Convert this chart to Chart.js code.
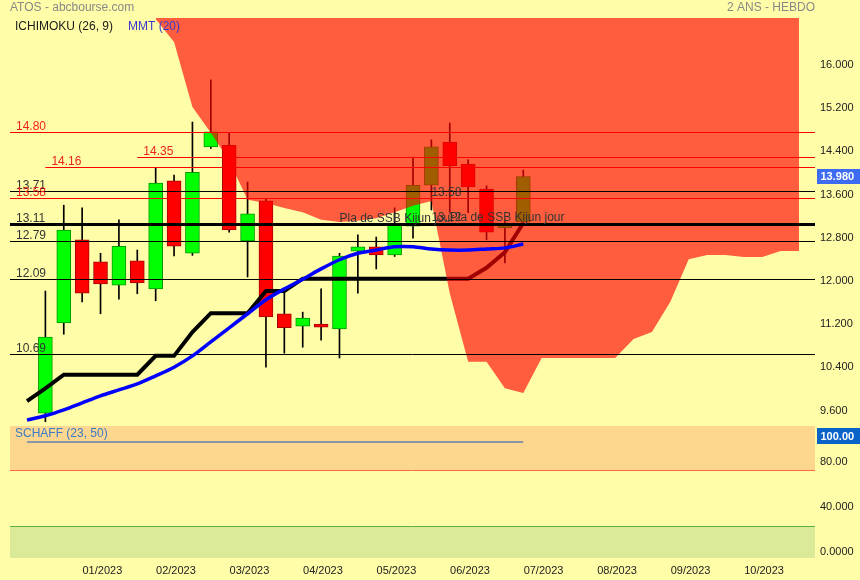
<!DOCTYPE html>
<html>
<head>
<meta charset="utf-8">
<title>ATOS - abcbourse.com</title>
<script src="https://cdn.jsdelivr.net/npm/chart.js@4.4.1/dist/chart.umd.min.js"></script>
<style>
  html, body { margin: 0; padding: 0; background: #FFFDA8; }
  #wrap { position: relative; width: 860px; height: 580px; overflow: hidden; }
  #main { position: absolute; left: 0; top: 0; }
  #osc { position: absolute; left: 0; top: 425px; }
</style>
</head>
<body>
<div id="wrap">
  <canvas id="main" width="860" height="425" style="width:860px;height:425px"></canvas>
  <canvas id="osc" width="860" height="155" style="width:860px;height:155px"></canvas>
</div>
<script>
// Weekly candles, week index 1..27 (index 0 = first point of the lines)
const opens  = [9.60, 11.27, 12.81, 12.40, 11.97, 12.42, 11.90, 13.90, 12.56, 14.53, 14.56, 12.79, 13.53, 11.44,
                11.21, 11.25, 11.16, 12.60, 12.68, 12.53, 13.06, 13.82, 14.62, 14.21, 13.75, 13.03, 13.14];
const closes = [11.01, 12.99, 11.82, 11.99, 12.69, 12.01, 13.86, 12.69, 14.06, 14.81, 12.99, 13.29, 11.38, 11.18,
                11.36, 11.19, 12.51, 12.68, 12.53, 13.10, 13.82, 14.53, 14.18, 13.79, 12.95, 13.08, 13.98];
const highs  = [11.86, 13.45, 13.40, 12.56, 13.18, 12.62, 14.14, 14.01, 14.99, 15.77, 14.79, 13.88, 13.56, 11.86,
                11.47, 11.90, 12.56, 12.90, 12.86, 13.40, 14.34, 14.66, 14.97, 14.29, 13.81, 13.18, 14.10];
const lows   = [9.44, 11.06, 11.66, 11.44, 11.71, 11.81, 11.68, 12.51, 12.52, 14.50, 12.95, 12.12, 10.45, 10.71,
                10.82, 10.95, 10.62, 11.82, 12.27, 12.50, 12.84, 13.36, 13.32, 13.31, 12.81, 12.38, 13.12];

// Ichimoku Kijun + MMT(20), week index 0..27
const kijun = [9.82, 10.06, 10.31, 10.31, 10.31, 10.31, 10.31, 10.66, 10.66, 11.10, 11.45, 11.45, 11.45, 11.86,
               11.86, 12.09, 12.09, 12.09, 12.09, 12.09, 12.09, 12.09, 12.09, 12.09, 12.09, 12.29, 12.58, 13.12];
const mmt20 = [9.47, 9.55, 9.66, 9.79, 9.92, 10.03, 10.14, 10.29, 10.45, 10.66, 10.92, 11.18, 11.44, 11.70,
               11.90, 12.08, 12.27, 12.44, 12.56, 12.62, 12.68, 12.68, 12.64, 12.62, 12.62, 12.64, 12.66, 12.73];

// lower edge of the cloud, week index 7..42 (upper edge is above the chart)
const cloudStart = 7;
const cloudLow = [16.90, 16.47, 15.27, 14.79, 14.27, 13.55, 13.49, 13.40, 13.32, 13.18, 13.14, 13.16, 13.21, 13.32,
                  13.44, 13.53, 11.82, 10.55, 10.55, 10.06, 9.97, 10.62, 10.62, 10.62, 10.62, 10.62, 10.97, 11.10,
                  11.66, 12.45, 12.53, 12.53, 12.49, 12.49, 12.60, 12.60];

// Schaff (23, 50), week index 0..27
const schaff = [100, 100, 100, 100, 100, 100, 100, 100, 100, 100, 100, 100, 100, 100,
                100, 100, 100, 100, 100, 100, 100, 100, 100, 100, 100, 100, 100, 100];

// horizontal levels (null start = from the left edge)
const levels     = [14.80, 14.35, 14.16, 13.71, 13.58, 13.11, 12.79, 12.09, 10.69];
const levelStart = [null, 6, 1, null, null, null, null, null, null];
const levelRed   = [true, true, true, false, true, false, false, false, false];
const levelBold  = [false, false, false, false, false, true, false, false, false];

const notes = [
  { text: '13.58', x: 22, y: 13.58 },
  { text: '13.12', x: 22, y: 13.12 },
  { text: 'Pla de SSB Kijun jour', x: 17, y: 13.11 },
  { text: 'Pla de SSB Kijun jour', x: 23, y: 13.12 }
];

const monthLabels = ['01/2023', '02/2023', '03/2023', '04/2023', '05/2023', '06/2023', '07/2023', '08/2023', '09/2023', '10/2023'];
const priceTicks = [9.6, 10.4, 11.2, 12.0, 12.8, 13.6, 14.4, 15.2, 16.0];
const schaffTicks = [0, 40, 80];
const schaffTickLabels = ['0.0000', '40.000', '80.00'];

const FONT = 'Arial, "Liberation Sans", sans-serif';
Chart.defaults.font.family = FONT;
Chart.defaults.animation = false;

const X_MIN = -0.925, X_MAX = 42.87;
const AXIS_W = 45;

// fixed width right axis, no extra padding for the end labels
function fitRight(scale) {
  scale.width = AXIS_W;
  scale.paddingTop = 0;
  scale.paddingBottom = 0;
}

const candles = opens.map((o, k) => ({ x: k + 1, o: o, c: closes[k], h: highs[k], l: lows[k] }));
const up = candles.map(d => d.c >= d.o);

// levels are drawn right after the cloud so the blue MMT stays on top
const levelPlugin = {
  id: 'levels',
  afterDatasetDraw(chart, args) {
    if (chart.data.datasets[args.index].label !== 'Nuage') return;
    const ctx = chart.ctx, xs = chart.scales.x, ys = chart.scales.y, area = chart.chartArea;
    ctx.save();
    levels.forEach((v, k) => {
      const yv = ys.getPixelForValue(v);
      const w = levelBold[k] ? 3 : 1;
      const y = w % 2 ? Math.round(yv) + 0.5 : Math.round(yv);
      const x0 = levelStart[k] === null ? area.left : xs.getPixelForValue(levelStart[k]);
      ctx.strokeStyle = levelRed[k] ? '#FF0000' : '#000000';
      ctx.lineWidth = w;
      ctx.beginPath();
      ctx.moveTo(x0, y);
      ctx.lineTo(area.right, y);
      ctx.stroke();
      ctx.fillStyle = levelRed[k] ? '#EE2222' : '#333333';
      ctx.font = '12px ' + FONT;
      ctx.textBaseline = 'alphabetic';
      ctx.fillText(v.toFixed(2), x0 + 6, yv - 2);
    });
    ctx.restore();
  },
  afterDatasetsDraw(chart) {
    const ctx = chart.ctx, xs = chart.scales.x, ys = chart.scales.y, area = chart.chartArea;
    ctx.save();
    ctx.font = '12px ' + FONT;
    ctx.fillStyle = '#333333';
    ctx.textBaseline = 'alphabetic';
    notes.forEach(n => ctx.fillText(n.text, xs.getPixelForValue(n.x), ys.getPixelForValue(n.y) - 2));

    ctx.textBaseline = 'middle';
    ctx.fillStyle = '#888888';
    ctx.fillText('ATOS - abcbourse.com', 10, 8);
    ctx.textAlign = 'right';
    ctx.fillText('2 ANS - HEBDO', area.right, 8);
    ctx.textAlign = 'left';
    ctx.fillStyle = '#1a1a1a';
    ctx.fillText('ICHIMOKU (26, 9)', 15, 27);
    ctx.fillStyle = '#3838D0';
    ctx.fillText('MMT (20)', 128, 27);

    // last price badge
    const last = closes[closes.length - 1];
    const yb = ys.getPixelForValue(last);
    ctx.fillStyle = '#3D6CF2';
    ctx.fillRect(area.right + 2, Math.round(yb - 7.5), 43, 15);
    ctx.fillStyle = '#ffffff';
    ctx.font = 'bold 11px ' + FONT;
    ctx.fillText(last.toFixed(3), area.right + 5.5, yb + 0.5);
    ctx.restore();
  }
};

new Chart(document.getElementById('main'), {
  type: 'bar',
  data: {
    datasets: [
      {
        label: 'Mèches',
        order: 6,
        grouped: false,
        data: candles.map(d => ({ x: d.x, y: [d.l, d.h] })),
        backgroundColor: '#000000',
        borderWidth: 0,
        barThickness: 1
      },
      {
        label: 'Corps',
        order: 5,
        grouped: false,
        data: candles.map(d => ({ x: d.x, y: [d.o, d.c] })),
        backgroundColor: up.map(u => u ? '#00FF00' : '#FF0000'),
        borderColor: up.map(u => u ? '#009A00' : '#A80000'),
        borderWidth: 1,
        borderSkipped: false,
        barThickness: 14
      },
      {
        type: 'line',
        label: 'Kijun',
        order: 4,
        data: kijun.map((v, i) => ({ x: i, y: v })),
        borderColor: '#000000',
        borderWidth: 4,
        pointRadius: 0,
        tension: 0,
        fill: false
      },
      {
        type: 'line',
        label: 'Nuage',
        order: 3,
        data: cloudLow.map((v, i) => ({ x: cloudStart + i, y: v })),
        borderWidth: 0,
        borderColor: 'rgba(0,0,0,0)',
        backgroundColor: 'rgba(255,0,0,0.63)',
        pointRadius: 0,
        tension: 0,
        fill: 'end'
      },
      {
        type: 'line',
        label: 'MMT (20)',
        order: 1,
        data: mmt20.map((v, i) => ({ x: i, y: v })),
        borderColor: '#0000FF',
        borderWidth: 3.5,
        pointRadius: 0,
        tension: 0.3,
        fill: false
      }
    ]
  },
  options: {
    responsive: false,
    maintainAspectRatio: false,
    layout: { padding: { left: 10, top: 18, right: 0, bottom: 2 } },
    plugins: { legend: { display: false }, tooltip: { enabled: false } },
    scales: {
      x: {
        type: 'linear',
        display: false,
        offset: false,
        min: X_MIN,
        max: X_MAX
      },
      y: {
        type: 'linear',
        position: 'right',
        beginAtZero: false,
        min: 9.4167,
        max: 16.9167,
        afterFit: fitRight,
        afterBuildTicks: scale => { scale.ticks = priceTicks.map(v => ({ value: v })); },
        grid: { display: false, drawTicks: false },
        border: { display: false },
        ticks: {
          padding: 5,
          labelOffset: -2.5,
          color: '#222222',
          font: { size: 11 },
          callback: v => v.toFixed(3)
        }
      }
    }
  },
  plugins: [levelPlugin]
});

// Schaff panel
const bandPlugin = {
  id: 'bands',
  beforeDatasetsDraw(chart) {
    const ctx = chart.ctx, ys = chart.scales.y, a = chart.chartArea;
    const y75 = Math.round(ys.getPixelForValue(75));
    const y25 = Math.round(ys.getPixelForValue(25));
    ctx.save();
    ctx.fillStyle = '#FDD690';
    ctx.fillRect(a.left, a.top, a.right - a.left, y75 - a.top);
    ctx.fillStyle = '#DAEA98';
    ctx.fillRect(a.left, y25, a.right - a.left, a.bottom - y25);
    ctx.lineWidth = 1;
    ctx.strokeStyle = '#FF6644';
    ctx.beginPath(); ctx.moveTo(a.left, y75 + 0.5); ctx.lineTo(a.right, y75 + 0.5); ctx.stroke();
    ctx.strokeStyle = '#5DB040';
    ctx.beginPath(); ctx.moveTo(a.left, y25 + 0.5); ctx.lineTo(a.right, y25 + 0.5); ctx.stroke();
    ctx.restore();
  },
  afterDatasetsDraw(chart) {
    const ctx = chart.ctx, ys = chart.scales.y, a = chart.chartArea;
    ctx.save();
    ctx.font = '12px ' + FONT;
    ctx.textBaseline = 'middle';
    ctx.fillStyle = '#3A7BC4';
    ctx.fillText('SCHAFF (23, 50)', 15, a.top + 8);
    const last = schaff[schaff.length - 1];
    const yb = ys.getPixelForValue(last) - 6;
    ctx.fillStyle = '#0A63C6';
    ctx.fillRect(a.right + 2, Math.round(yb - 8), 43, 16);
    ctx.fillStyle = '#ffffff';
    ctx.font = 'bold 11px ' + FONT;
    ctx.fillText(last.toFixed(2), a.right + 5.5, yb + 0.5);
    ctx.restore();
  }
};

new Chart(document.getElementById('osc'), {
  type: 'line',
  data: {
    datasets: [{
      label: 'SCHAFF (23, 50)',
      data: schaff.map((v, i) => ({ x: i, y: v })),
      borderColor: '#8A96A8',
      borderWidth: 2,
      pointRadius: 0,
      fill: false
    }]
  },
  options: {
    responsive: false,
    maintainAspectRatio: false,
    layout: { padding: { left: 10, top: 1, right: 0, bottom: 0 } },
    plugins: { legend: { display: false }, tooltip: { enabled: false } },
    scales: {
      x: {
        type: 'linear',
        min: X_MIN,
        max: X_MAX,
        offset: false,
        afterFit: scale => {
          scale.height = 22;
          scale.paddingLeft = 0;
          scale.paddingRight = 0;
        },
        afterBuildTicks: scale => { scale.ticks = monthLabels.map((m, k) => ({ value: 4.1 + 4 * k })); },
        grid: { display: false, drawTicks: false },
        border: { display: false },
        ticks: {
          autoSkip: false,
          maxRotation: 0,
          padding: 6,
          color: '#222222',
          font: { size: 11 },
          callback: (v, k) => monthLabels[k]
        }
      },
      y: {
        type: 'linear',
        position: 'right',
        min: -3.57,
        max: 114.29,
        afterFit: fitRight,
        afterBuildTicks: scale => { scale.ticks = schaffTicks.map(v => ({ value: v })); },
        grid: { display: false, drawTicks: false },
        border: { display: false },
        ticks: {
          padding: 5,
          labelOffset: -2.5,
          color: '#222222',
          font: { size: 11 },
          callback: (v, k) => schaffTickLabels[k]
        }
      }
    }
  },
  plugins: [bandPlugin]
});
</script>
</body>
</html>
